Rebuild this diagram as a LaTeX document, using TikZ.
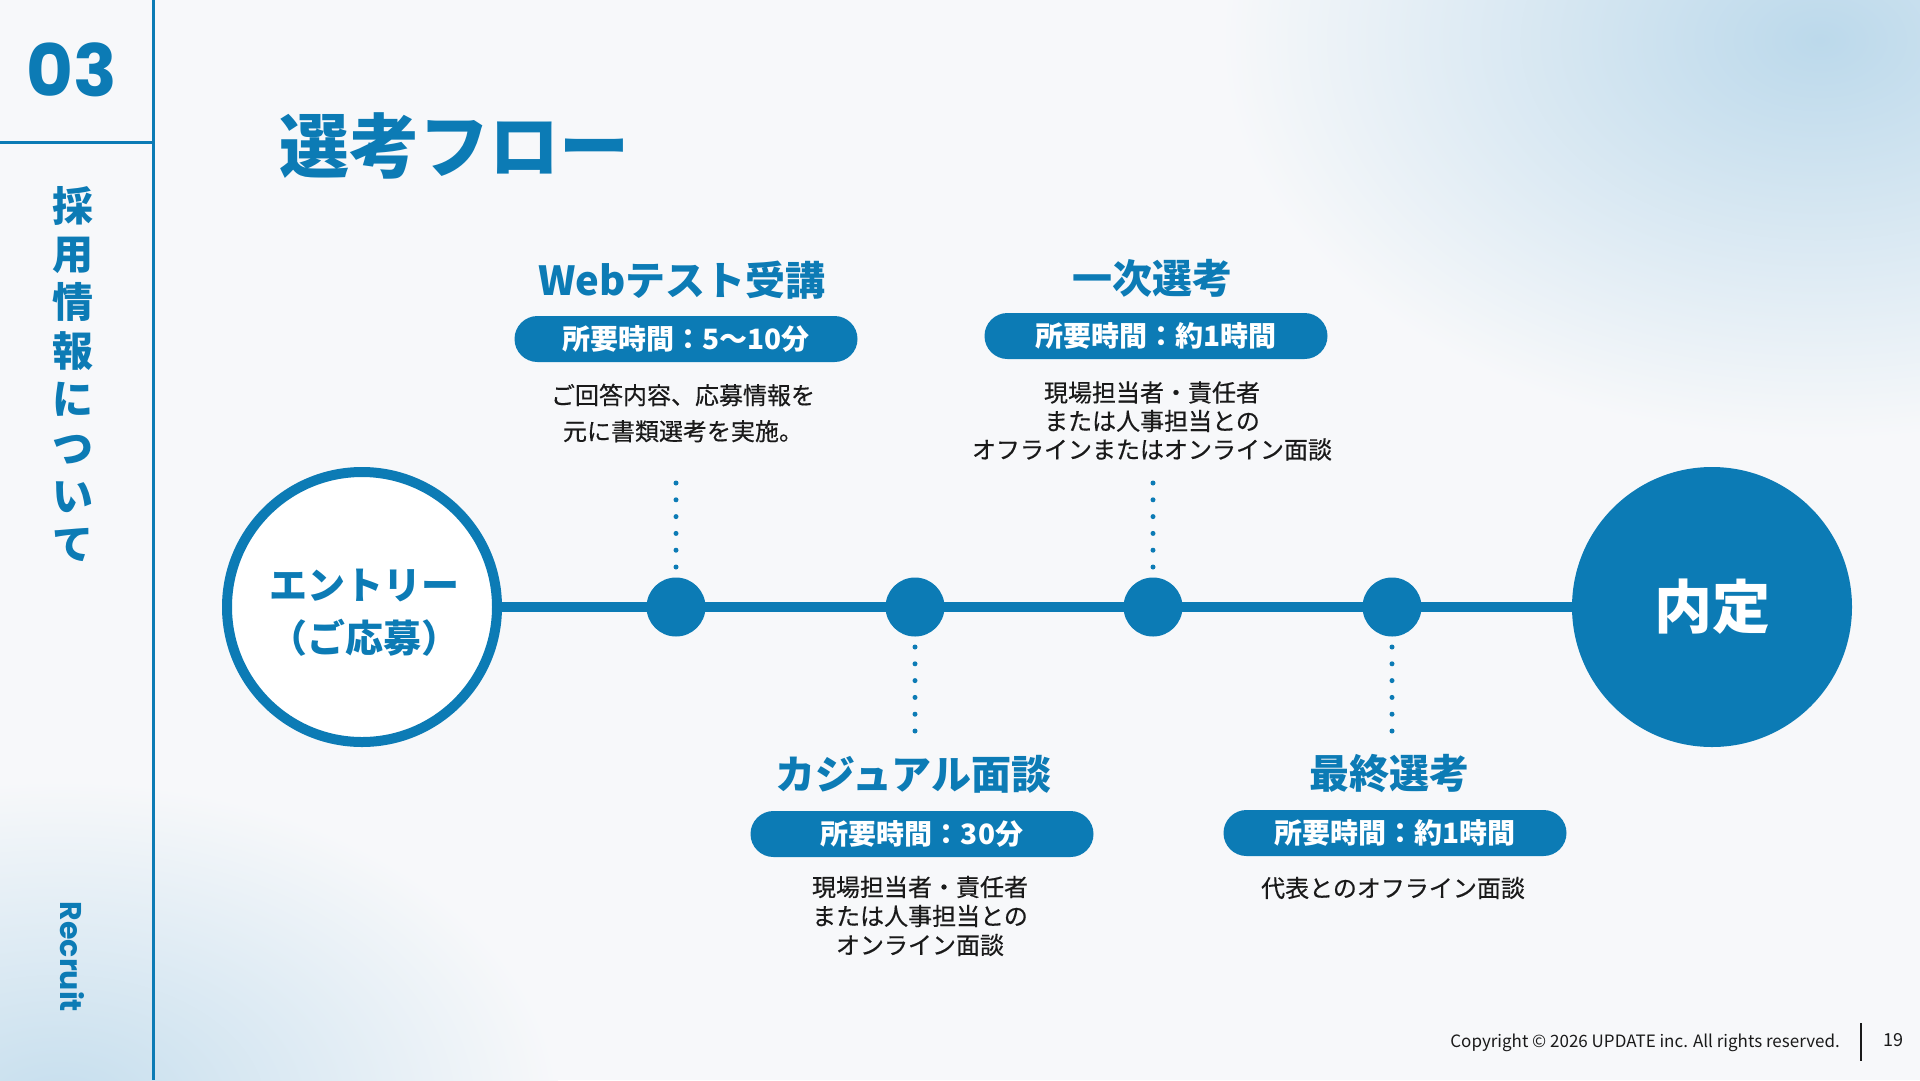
\documentclass[tikz,border=0pt]{standalone}
\usepackage{fontspec}
\setmainfont{Noto Sans CJK JP}
\newfontfamily\jp{Noto Sans CJK JP}
\newfontfamily\jpm[FakeBold=0.4]{Noto Sans CJK JP}
\newfontfamily\pop{Poppins}
\usetikzlibrary{shapes.misc}
\definecolor{brand}{HTML}{0C7BB5}
\definecolor{bgc}{HTML}{F7F8FA}
\definecolor{wash}{HTML}{BCD9EB}
\definecolor{ink}{HTML}{1A1A1A}
\tikzset{
  head/.style={font=\jp\bfseries\fontsize{40}{44}\selectfont, text=brand, inner sep=0},
  pill/.style={rounded rectangle, fill=brand, text=white, minimum width=343, minimum height=46, inner sep=0, font=\jp\bfseries\fontsize{28}{30}\selectfont},
  desc/.style={align=center, text=ink, inner sep=0},
  dotline/.style={brand, line width=5, line cap=round, dash pattern=on 0pt off 16.8pt},
  stepdot/.style={circle, fill=brand, minimum size=59, inner sep=0},
}
\begin{document}
\begin{tikzpicture}[x=1pt,y=-1pt]
\useasboundingbox (0,0) rectangle (1920,1080);
\fill[bgc] (0,0) rectangle (1920,1080);
\begin{scope}
\clip (0,0) rectangle (1920,1080);
\shade[inner color=wash, outer color=bgc] (1820,40) ellipse [x radius=600, y radius=400];
\shade[inner color=wash!85!bgc, outer color=bgc] (60,1110) ellipse [x radius=500, y radius=330];
\end{scope}
% sidebar
\draw[brand, line width=3] (153,0) -- (153,1080);
\draw[brand, line width=3] (0,142) -- (153,142);
\node[font=\pop\bfseries\fontsize{72}{72}\selectfont, text=brand, inner sep=0] (num) at (72,70) {03};
\node[font=\jp\bfseries\fontsize{41}{48.4}\selectfont, text=brand, align=center, inner sep=0] (side) at (73,374) {採\\用\\情\\報\\に\\つ\\い\\て};
\node[font=\pop\bfseries\fontsize{30}{30}\selectfont, text=brand, rotate=-90, inner sep=0] (rec) at (72,957) {Recruit};
% title
\node[font=\jp\bfseries\fontsize{70}{70}\selectfont, text=brand, anchor=west, inner sep=0] (title) at (279,146) {選考フロー};
% main circles
\node[circle, draw=brand, line width=10, fill=white, minimum size=270, inner sep=0, align=center, text=brand, font=\jp\bfseries\fontsize{38}{53}\selectfont] (entry) at (362,607) {};
\node[text=brand, align=center, inner sep=0, font=\jp\bfseries\fontsize{38}{53}\selectfont] (entrytxt) at (364,613) {エントリー\\（ご応募）};
\node[circle, fill=brand, minimum size=280, inner sep=0, text=white, font=\jp\bfseries\fontsize{58}{58}\selectfont] (naitei) at (1712,607) {内定};
\draw[brand, line width=10] (entry) -- (naitei);
\node[stepdot] (d1) at (676,607) {};
\node[stepdot] (d2) at (915,607) {};
\node[stepdot] (d3) at (1153,607) {};
\node[stepdot] (d4) at (1392,607) {};
% step 1
\node[head] (h1) at (682,280) {Webテスト受講};
\node[pill] (p1) at (686,339) {所要時間：5〜10分};
\node[desc, font=\jpm\fontsize{24}{36}\selectfont] (t1) at (683,413) {ご回答内容、応募情報を\\元に書類選考を実施。};
\coordinate (u1) at (676,483);
\draw[dotline] (d1) ++(0,-40) -- (u1);
% step 3
\node[head] (h3) at (1152,278) {一次選考};
\node[pill] (p3) at (1156,336) {所要時間：約1時間};
\node[desc, font=\jpm\fontsize{24}{28.5}\selectfont] (t3) at (1152,421) {現場担当者・責任者\\または人事担当との\\オフラインまたはオンライン面談};
\coordinate (u3) at (1153,483);
\draw[dotline] (d3) ++(0,-40) -- (u3);
% step 2
\node[head] (h2) at (913,774) {カジュアル面談};
\node[pill] (p2) at (922,834) {所要時間：30分};
\node[desc, font=\jpm\fontsize{24}{29}\selectfont] (t2) at (920,916) {現場担当者・責任者\\または人事担当との\\オンライン面談};
\coordinate (u2) at (915,731);
\draw[dotline] (d2) ++(0,40) -- (u2);
% step 4
\node[head] (h4) at (1389,774) {最終選考};
\node[pill] (p4) at (1395,833) {所要時間：約1時間};
\node[desc, font=\jpm\fontsize{24}{29}\selectfont] (t4) at (1393,888) {代表とのオフライン面談};
\coordinate (u4) at (1392,731);
\draw[dotline] (d4) ++(0,40) -- (u4);
% footer
\node[font=\jp\fontsize{17}{17}\selectfont, anchor=east, text=ink, inner sep=0] (copy) at (1840,1043) {Copyright © 2026 UPDATE inc. All rights reserved.};
\coordinate (s1) at (1861,1023);
\coordinate (s2) at (1861,1061);
\draw[ink, line width=2] (s1) -- (s2);
\node[font=\jp\fontsize{18}{18}\selectfont, text=ink, inner sep=0] (pg) at (1893,1040) {19};
\end{tikzpicture}
\end{document}
